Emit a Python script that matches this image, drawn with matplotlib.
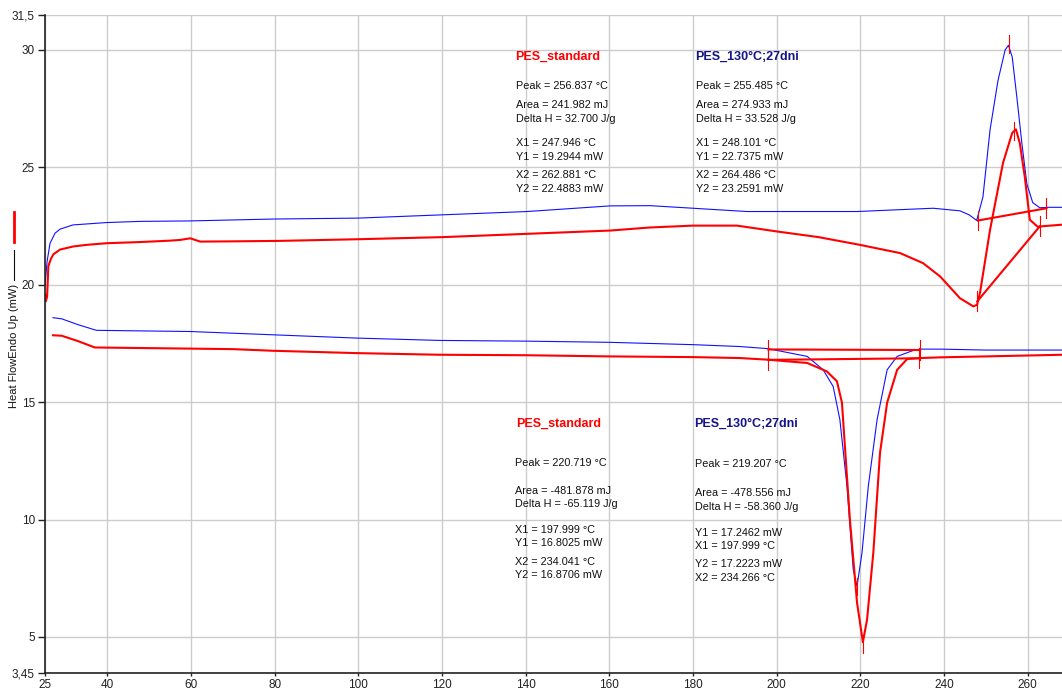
import matplotlib
matplotlib.use('Agg')
import matplotlib.pyplot as plt
from matplotlib.lines import Line2D

plt.rcParams['font.family'] = ['Liberation Sans', 'DejaVu Sans']

# Heating scans (upper curves)
heat_T_std = [25.1, 25.3, 25.6, 25.9, 26.5, 27.1, 28.7, 31.8, 35.0, 39.8, 47.8, 55.0,
              57.4, 59.8, 62.2, 70.0, 81.3, 99.9, 120.2, 140.3, 160.2, 169.7, 180.0,
              190.5, 200.1, 210.0, 219.9, 229.5, 235.0, 239.1, 243.8, 247.0, 247.9,
              248.6, 251.0, 254.1, 256.3, 257.2, 258.1, 259.3, 260.5, 262.4, 264.0, 268.2]
heat_Q_std = [19.6, 19.3, 19.5, 20.8, 21.1, 21.3, 21.5, 21.63, 21.7, 21.77, 21.82, 21.88,
              21.91, 21.98, 21.84, 21.85, 21.87, 21.94, 22.03, 22.17, 22.31, 22.44, 22.52,
              22.52, 22.27, 22.03, 21.7, 21.35, 20.92, 20.35, 19.43, 19.08, 19.15,
              19.66, 22.34, 25.19, 26.47, 26.62, 26.04, 24.6, 22.77, 22.47, 22.5, 22.56]

heat_T_aged = [25.1, 25.6, 26.3, 27.5, 28.7, 31.8, 39.8, 47.8, 59.8, 79.6, 99.9, 120.2,
               140.3, 160.2, 169.7, 180.0, 192.9, 219.2, 237.4, 243.8, 246.0, 247.8,
               249.3, 251.0, 252.9, 254.6, 255.4, 256.3, 257.4, 258.6, 259.8, 261.2,
               262.9, 265.0, 268.2]
heat_Q_aged = [20.0, 21.0, 21.77, 22.2, 22.37, 22.55, 22.65, 22.7, 22.72, 22.8, 22.84, 22.98,
               23.12, 23.36, 23.37, 23.26, 23.12, 23.12, 23.26, 23.15, 22.98, 22.74,
               23.74, 26.6, 28.7, 30.0, 30.2, 29.7, 28.0, 26.04, 24.3, 23.5,
               23.28, 23.3, 23.3]

# Cooling scans (lower curves)
cool_T_std = [27.0, 29.1, 33.0, 37.0, 70.0, 79.6, 99.6, 119.5, 140.0, 160.0, 180.0, 191.2,
              197.9, 207.3, 212.0, 214.4, 215.6, 216.5, 217.5, 219.2, 220.6, 221.6, 223.1,
              224.7, 226.4, 228.8, 231.2, 234.3, 239.1, 250.0, 268.2]
cool_Q_std = [17.85, 17.83, 17.6, 17.33, 17.26, 17.19, 17.09, 17.02, 17.0, 16.95, 16.92, 16.88,
              16.81, 16.67, 16.31, 15.89, 14.98, 12.6, 10.0, 6.47, 4.78, 5.74, 8.6,
              12.85, 14.98, 16.38, 16.84, 16.88, 16.91, 16.95, 17.02]

cool_T_aged = [27.0, 29.1, 33.0, 37.4, 59.8, 79.6, 99.6, 119.5, 140.0, 160.0, 180.0, 191.2,
               197.9, 207.3, 211.1, 213.5, 215.1, 216.8, 218.3, 219.2, 220.4, 221.9, 224.0,
               226.4, 228.8, 232.6, 234.3, 239.1, 250.0, 268.2]
cool_Q_aged = [18.6, 18.55, 18.3, 18.06, 18.01, 17.87, 17.73, 17.63, 17.6, 17.55, 17.45, 17.37,
               17.28, 16.95, 16.38, 15.67, 14.26, 11.42, 7.87, 7.16, 8.6, 11.42, 14.26,
               16.38, 16.95, 17.2, 17.26, 17.26, 17.22, 17.22]

# Peak integration limits (X1, Y1, X2, Y2) and peak temperatures
melt_std = (247.946, 19.2944, 262.881, 22.4883)
melt_aged = (248.101, 22.7375, 264.486, 23.2591)
cryst_std = (197.999, 16.8025, 234.041, 16.8706)
cryst_aged = (197.999, 17.2462, 234.266, 17.2223)
peaks = [(256.837, 26.55), (255.485, 30.25), (220.719, 4.7), (219.207, 7.15)]

yticks = [3.45, 5, 10, 15, 20, 25, 30, 31.5]
ytick_labels = ['3,45', '5', '10', '15', '20', '25', '30', '31,5']
xticks = [25, 40, 60, 80, 100, 120, 140, 160, 180, 200, 220, 240, 260]

RED = '#ff0000'
BLUE = '#1010ff'
NAVY = '#141488'

fig = plt.figure(figsize=(10.62, 6.93), dpi=100)
ax = fig.add_axes([0.042, 0.0283, 0.958, 0.9504])

ax.plot(heat_T_aged, heat_Q_aged, color=BLUE, lw=0.8)
ax.plot(cool_T_aged, cool_Q_aged, color=BLUE, lw=0.8)
ax.plot(heat_T_std, heat_Q_std, color=RED, lw=1.5)
ax.plot(cool_T_std, cool_Q_std, color=RED, lw=1.5)

# baselines with end ticks
for x1, y1, x2, y2 in [melt_std, melt_aged, cryst_std, cryst_aged]:
    ax.plot([x1, x2], [y1, y2], color=RED, lw=1.5)
    for xe, ye in [(x1, y1), (x2, y2)]:
        ax.plot([xe, xe], [ye - 0.42, ye + 0.42], color=RED, lw=0.8)
for xp, yp in peaks:
    ax.plot([xp, xp], [yp - 0.38, yp + 0.38], color=RED, lw=0.8)

ax.set_xlim(25, 268.2)
ax.set_ylim(3.45, 31.5)
ax.set_xticks(xticks)
ax.set_yticks(yticks)
ax.set_yticklabels(ytick_labels)
ax.grid(True, color='#cccccc', lw=1)
ax.set_axisbelow(True)
for s in ['top', 'right']:
    ax.spines[s].set_visible(False)
for s in ['left', 'bottom']:
    ax.spines[s].set_color('#222222')
    ax.spines[s].set_linewidth(1.2)
ax.tick_params(axis='y', length=5, width=1, color='#222222', labelsize=8.5,
               labelcolor='#222222', pad=2)
ax.tick_params(axis='x', length=2, width=1, color='#222222', labelsize=8.5,
               labelcolor='#222222', pad=2)

# y axis label with line key
fig.text(14 / 1062, 1 - 346 / 693, 'Heat FlowEndo Up (mW)', rotation=90,
         ha='center', va='center', fontsize=8, color='#111111')
fig.add_artist(Line2D([14 / 1062] * 2, [1 - 250 / 693, 1 - 280 / 693],
                      color='#111111', lw=0.8))
fig.add_artist(Line2D([14 / 1062] * 2, [1 - 212 / 693, 1 - 242 / 693],
                      color=RED, lw=2))

# peak reports
top_std = ['Peak = 256.837 °C', 'Area = 241.982 mJ', 'Delta H = 32.700 J/g',
           'X1 = 247.946 °C', 'Y1 = 19.2944 mW', 'X2 = 262.881 °C', 'Y2 = 22.4883 mW']
top_aged = ['Peak = 255.485 °C', 'Area = 274.933 mJ', 'Delta H = 33.528 J/g',
            'X1 = 248.101 °C', 'Y1 = 22.7375 mW', 'X2 = 264.486 °C', 'Y2 = 23.2591 mW']
bot_std = ['Peak = 220.719 °C', 'Area = -481.878 mJ', 'Delta H = -65.119 J/g',
           'X1 = 197.999 °C', 'Y1 = 16.8025 mW', 'X2 = 234.041 °C', 'Y2 = 16.8706 mW']
bot_aged = ['Peak = 219.207 °C', 'Area = -478.556 mJ', 'Delta H = -58.360 J/g',
            'Y1 = 17.2462 mW', 'X1 = 197.999 °C', 'Y2 = 17.2223 mW', 'X2 = 234.266 °C']

top_y = [28.47, 27.66, 27.06, 26.04, 25.45, 24.68, 24.09]
bot_y_std = [12.43, 11.23, 10.68, 9.57, 9.02, 8.21, 7.66]
bot_y_aged = [12.38, 11.15, 10.55, 9.45, 8.89, 8.09, 7.53]

ax.text(137.5, 29.7, 'PES_standard', color=RED, fontsize=9, weight='bold', va='center')
ax.text(180.5, 29.7, 'PES_130°C;27dni', color=NAVY, fontsize=9, weight='bold', va='center')
ax.text(137.8, 14.09, 'PES_standard', color=RED, fontsize=9, weight='bold', va='center')
ax.text(180.3, 14.09, 'PES_130°C;27dni', color=NAVY, fontsize=9, weight='bold', va='center')

for lines, ys, x in [(top_std, top_y, 137.6), (top_aged, top_y, 180.6),
                     (bot_std, bot_y_std, 137.4), (bot_aged, bot_y_aged, 180.4)]:
    for s, y in zip(lines, ys):
        ax.text(x, y, s, fontsize=7.8, va='center', color='#111111')

fig.savefig('out.png', dpi=100)
